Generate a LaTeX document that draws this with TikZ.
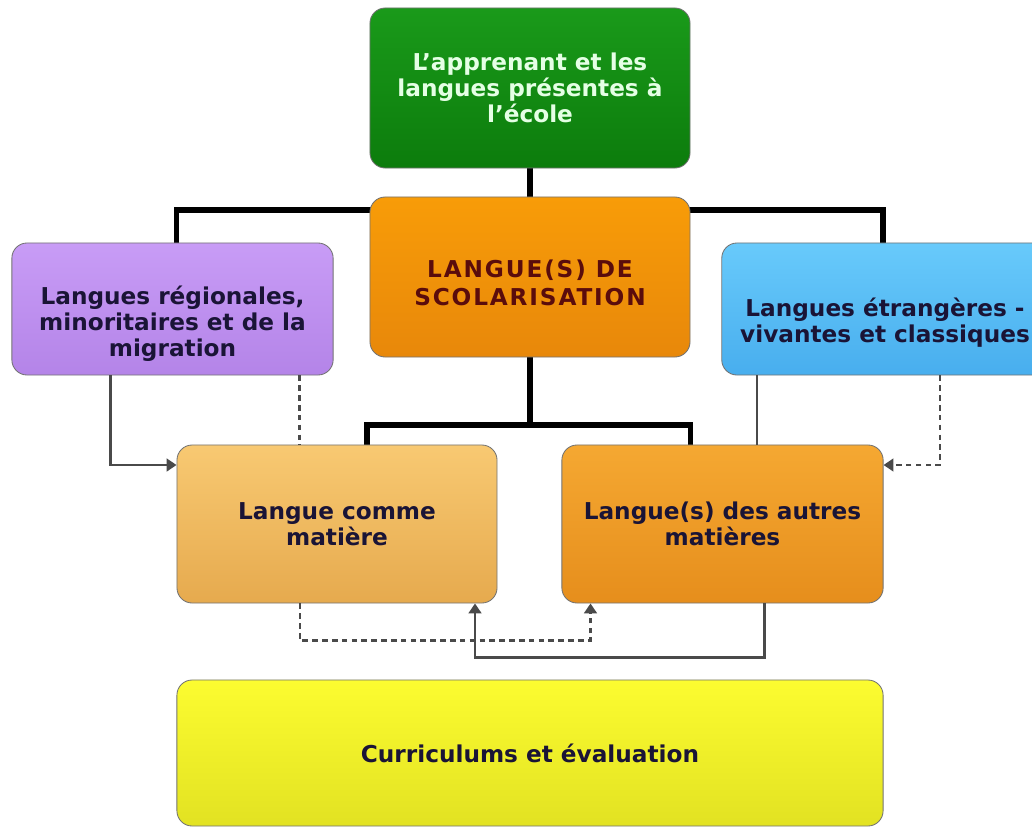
\documentclass[tikz,border=0pt]{standalone}
\usepackage{fontspec}
\setmainfont{DejaVu Sans}
\usetikzlibrary{arrows.meta,calc,backgrounds}

\definecolor{inkblue}{HTML}{1A1436}
\definecolor{inkred}{HTML}{5A0C0C}
\definecolor{linkgray}{HTML}{4A4A4A}
\definecolor{vertH}{HTML}{1A9A1A}\definecolor{vertB}{HTML}{0C7C0C}
\definecolor{orH}{HTML}{F89C08}\definecolor{orB}{HTML}{E8880A}
\definecolor{violH}{HTML}{C89CF6}\definecolor{violB}{HTML}{B484E8}
\definecolor{bleuH}{HTML}{68CAFB}\definecolor{bleuB}{HTML}{48AEEE}
\definecolor{sableH}{HTML}{F8C972}\definecolor{sableB}{HTML}{E6AA4E}
\definecolor{mielH}{HTML}{F5A832}\definecolor{mielB}{HTML}{E68E1C}
\definecolor{jauneH}{HTML}{FCFC30}\definecolor{jauneB}{HTML}{E2E222}

% invisible strut that lowers a text block
\newcommand{\abaisse}[1]{\rule{0pt}{#1}}

\tikzset{
  bloc/.style={draw=black!55, line width=0.6pt, rounded corners=0.38cm,
    align=center, font=\bfseries\fontsize{16.5}{18.5}\selectfont, text=inkblue},
  tree/.style={line width=3.6pt, black},
  link/.style={line width=1.6pt, linkgray},
  dlink/.style={link, dash pattern=on 4pt off 3pt},
  tip/.style={-{Triangle[length=7pt,width=9pt]}}
}

\begin{document}
\begin{tikzpicture}[x=0.025cm, y=-0.025cm]
    \useasboundingbox (0,0) rectangle (1032,836);

    % Vertices
    \node[bloc, minimum width=8cm, minimum height=4cm, top color=vertH, bottom color=vertB, text=green!10] (apprenant) at (530,88)
      {L'apprenant et les\\langues présentes à\\l'école};
    \node[bloc, minimum width=8cm, minimum height=4cm, top color=orH, bottom color=orB, text=inkred,
      font=\bfseries\fontsize{16.5}{20}\selectfont\addfontfeatures{LetterSpace=8}] (scol) at (530,277)
      {\abaisse{0.75cm}LANGUE(S) DE\\SCOLARISATION};
    \node[bloc, minimum width=8.03cm, minimum height=3.3cm, top color=violH, bottom color=violB] (regio) at (172.5,309)
      {\abaisse{1.2cm}Langues régionales,\\minoritaires et de la\\migration};
    \node[bloc, minimum width=8.16cm, minimum height=3.3cm, top color=bleuH, bottom color=bleuB] (etrang) at (885,309)
      {\abaisse{1.15cm}Langues étrangères -\\vivantes et classiques};
    \node[bloc, minimum width=8cm, minimum height=3.95cm, top color=sableH, bottom color=sableB] (comme) at (337,524)
      {Langue comme\\matière};
    \node[bloc, minimum width=8.03cm, minimum height=3.95cm, top color=mielH, bottom color=mielB] (autres) at (722.5,524)
      {Langue(s) des autres\\matières};
    \node[bloc, minimum width=17.65cm, minimum height=3.65cm, top color=jauneH, bottom color=jauneB] (curri) at (530,753)
      {Curriculums et évaluation};

    % Edges
    \coordinate (hautjoin) at (530,210);
    \coordinate (basjoin) at (530,425);
    \begin{scope}[on background layer]
      \draw[tree] (apprenant.south) -- (scol.north);
      \draw[tree] ($(regio.north)+(4,0)$) |- (hautjoin) -| ($(etrang.north)+(-2,0)$);
      \draw[tree] (scol.south) -- (basjoin);
      \draw[tree] ($(comme.north)+(30,0)$) |- (basjoin) -| ($(autres.north)+(-32,0)$);
    \end{scope}

    \draw[link, tip] ($(regio.south)+(-62,0)$) |- ($(comme.west)+(0,-59)$);
    \draw[dlink] ($(regio.south)+(127,0)$) coordinate (r1) -- (r1 |- comme.north);
    \draw[link] ($(etrang.south)+(-128,0)$) coordinate (e1) -- (e1 |- autres.north);
    \draw[dlink, tip] ($(etrang.south)+(55,0)$) |- ($(autres.east)+(0,-59)$);

    \draw[dlink, tip] ($(comme.south)+(-37,0)$) -- ++(0,37) -| ($(autres.south)+(-132,0)$);
    \draw[link, tip] ($(autres.south)+(42,0)$) -- ++(0,54) -| ($(comme.south)+(138,0)$);
\end{tikzpicture}
\end{document}
